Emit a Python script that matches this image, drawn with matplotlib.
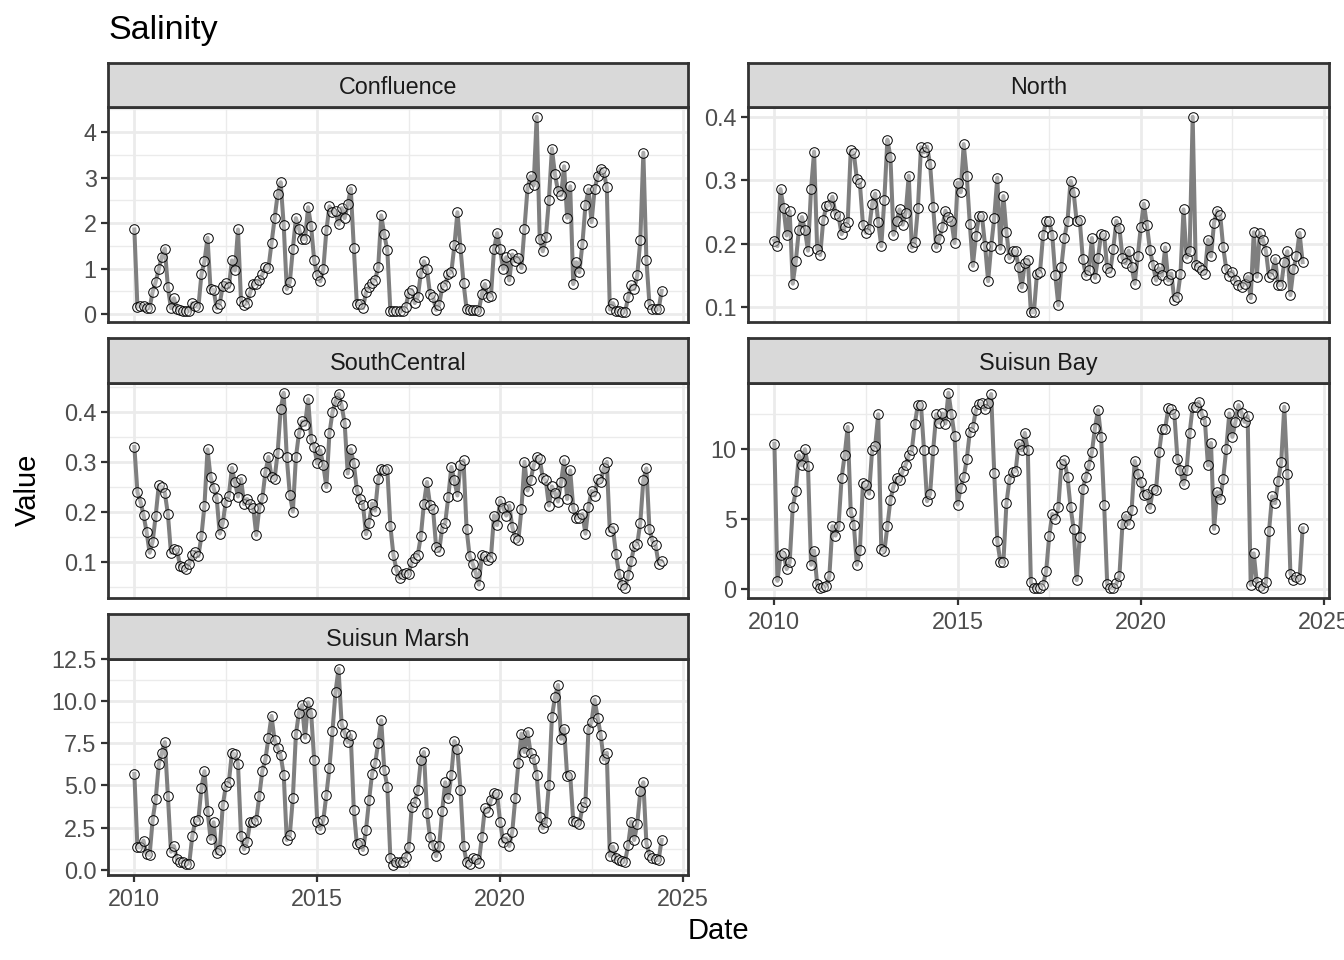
import numpy as np
import pandas as pd
import matplotlib
matplotlib.use('Agg')
from matplotlib import pyplot as plt
from matplotlib.ticker import MultipleLocator, FormatStrFormatter

plt.rcParams['font.family'] = ['Liberation Sans', 'DejaVu Sans']

# monthly values (Jan 2010 onwards)
confluence = [
    1.86, 0.16, 0.18, 0.18, 0.13, 0.13, 0.49, 0.71, 0.98, 1.26,
    1.44, 0.59, 0.13, 0.35, 0.10, 0.08, 0.06, 0.07, 0.07, 0.24,
    0.18, 0.15, 0.87, 1.16, 1.68, 0.54, 0.53, 0.13, 0.22, 0.62,
    0.68, 0.59, 1.18, 0.96, 1.86, 0.28, 0.20, 0.24, 0.48, 0.66,
    0.66, 0.74, 0.88, 1.03, 1.02, 1.56, 2.11, 2.63, 2.90, 1.95,
    0.55, 0.70, 1.43, 2.11, 1.88, 1.65, 1.65, 2.35, 1.93, 1.18,
    0.85, 0.72, 0.99, 1.84, 2.37, 2.24, 2.26, 1.97, 2.33, 2.11,
    2.41, 2.76, 1.46, 0.22, 0.22, 0.13, 0.48, 0.60, 0.68, 0.75,
    1.03, 2.17, 1.75, 1.40, 0.07, 0.07, 0.07, 0.07, 0.07, 0.15,
    0.46, 0.53, 0.24, 0.38, 0.90, 1.16, 0.99, 0.44, 0.38, 0.09,
    0.20, 0.59, 0.64, 0.88, 0.92, 1.51, 2.24, 1.46, 0.68, 0.11,
    0.09, 0.09, 0.09, 0.07, 0.44, 0.66, 0.37, 0.40, 1.42, 1.78,
    1.42, 0.99, 1.25, 0.74, 1.31, 1.16, 1.24, 1.01, 1.88, 2.77,
    3.03, 2.83, 4.34, 1.65, 1.38, 1.69, 2.50, 3.64, 3.07, 2.71,
    2.61, 3.25, 2.12, 2.81, 0.66, 1.14, 0.92, 1.54, 2.39, 2.74,
    2.02, 2.74, 3.03, 3.20, 3.13, 2.79, 0.10, 0.24, 0.07, 0.06,
    0.04, 0.04, 0.37, 0.63, 0.55, 0.85, 1.62, 3.55, 1.19, 0.22,
    0.11, 0.10, 0.10, 0.51]

north = [
    0.205, 0.196, 0.286, 0.256, 0.213, 0.251, 0.137, 0.172, 0.221, 0.242,
    0.221, 0.189, 0.286, 0.345, 0.192, 0.182, 0.237, 0.259, 0.261, 0.274,
    0.247, 0.244, 0.215, 0.226, 0.234, 0.347, 0.343, 0.302, 0.295, 0.230,
    0.217, 0.223, 0.262, 0.279, 0.234, 0.196, 0.269, 0.364, 0.337, 0.214,
    0.235, 0.254, 0.230, 0.249, 0.307, 0.194, 0.202, 0.256, 0.352, 0.344,
    0.353, 0.325, 0.258, 0.194, 0.208, 0.226, 0.252, 0.242, 0.235, 0.201,
    0.296, 0.281, 0.357, 0.307, 0.231, 0.165, 0.212, 0.243, 0.243, 0.197,
    0.141, 0.196, 0.241, 0.304, 0.192, 0.275, 0.218, 0.177, 0.188, 0.188,
    0.163, 0.131, 0.169, 0.175, 0.092, 0.092, 0.153, 0.156, 0.214, 0.235,
    0.235, 0.214, 0.150, 0.103, 0.164, 0.209, 0.236, 0.299, 0.281, 0.235,
    0.238, 0.176, 0.150, 0.158, 0.209, 0.146, 0.178, 0.215, 0.214, 0.161,
    0.156, 0.192, 0.236, 0.225, 0.178, 0.169, 0.189, 0.164, 0.137, 0.180,
    0.226, 0.263, 0.230, 0.190, 0.167, 0.142, 0.161, 0.150, 0.194, 0.142,
    0.153, 0.111, 0.116, 0.152, 0.254, 0.178, 0.188, 0.400, 0.166, 0.163,
    0.158, 0.153, 0.206, 0.180, 0.233, 0.252, 0.246, 0.194, 0.160, 0.149,
    0.156, 0.142, 0.135, 0.132, 0.137, 0.148, 0.114, 0.218, 0.148, 0.217,
    0.206, 0.188, 0.148, 0.153, 0.176, 0.135, 0.135, 0.171, 0.188, 0.119,
    0.160, 0.180, 0.217, 0.171]

south_central = [
    0.330, 0.240, 0.221, 0.194, 0.161, 0.119, 0.141, 0.193, 0.253, 0.250,
    0.238, 0.196, 0.119, 0.126, 0.124, 0.092, 0.090, 0.087, 0.097, 0.114,
    0.121, 0.112, 0.152, 0.213, 0.325, 0.270, 0.248, 0.228, 0.157, 0.178,
    0.221, 0.233, 0.288, 0.260, 0.231, 0.266, 0.216, 0.226, 0.216, 0.209,
    0.154, 0.209, 0.228, 0.280, 0.310, 0.270, 0.266, 0.318, 0.405, 0.438,
    0.309, 0.235, 0.201, 0.309, 0.357, 0.381, 0.374, 0.425, 0.345, 0.330,
    0.297, 0.323, 0.293, 0.250, 0.357, 0.399, 0.421, 0.436, 0.413, 0.377,
    0.277, 0.325, 0.297, 0.244, 0.226, 0.215, 0.156, 0.179, 0.217, 0.203,
    0.266, 0.285, 0.283, 0.285, 0.172, 0.114, 0.085, 0.068, 0.076, 0.079,
    0.077, 0.101, 0.109, 0.115, 0.152, 0.217, 0.260, 0.215, 0.206, 0.131,
    0.122, 0.169, 0.179, 0.230, 0.290, 0.263, 0.233, 0.293, 0.303, 0.166,
    0.112, 0.097, 0.079, 0.055, 0.114, 0.112, 0.105, 0.110, 0.193, 0.174,
    0.223, 0.209, 0.193, 0.213, 0.170, 0.149, 0.144, 0.206, 0.300, 0.243,
    0.263, 0.293, 0.310, 0.306, 0.268, 0.263, 0.213, 0.251, 0.238, 0.221,
    0.260, 0.303, 0.226, 0.283, 0.208, 0.188, 0.188, 0.196, 0.157, 0.211,
    0.242, 0.233, 0.265, 0.260, 0.287, 0.300, 0.162, 0.169, 0.117, 0.077,
    0.054, 0.048, 0.074, 0.102, 0.132, 0.136, 0.179, 0.264, 0.287, 0.166,
    0.142, 0.134, 0.097, 0.102]

suisun_bay = [
    10.4, 0.6, 2.46, 2.56, 1.44, 1.91, 5.86, 7.0, 9.57, 8.85,
    10.0, 8.78, 1.75, 2.75, 0.36, 0.07, 0.17, 0.24, 0.96, 4.5,
    3.83, 4.5, 7.94, 9.57, 11.6, 5.55, 4.62, 1.75, 2.8, 7.58,
    7.42, 6.82, 9.93, 10.24, 12.5, 2.87, 2.7, 4.5, 6.39, 7.34,
    7.94, 7.78, 8.44, 8.9, 9.57, 9.93, 11.84, 13.2, 13.2, 9.93,
    6.29, 6.82, 9.93, 12.5, 11.9, 12.56, 11.84, 14.04, 12.5, 10.96,
    6.05, 7.25, 8.01, 9.28, 11.24, 11.56, 12.8, 13.23, 13.28, 12.85,
    13.28, 13.95, 8.3, 3.47, 1.96, 1.91, 6.15, 7.85, 8.37, 8.44,
    10.4, 9.93, 11.17, 9.93, 0.48, 0.07, 0.07, 0.12, 0.31, 1.27,
    3.78, 5.38, 5.02, 5.86, 8.97, 9.21, 8.01, 5.86, 4.31, 0.65,
    3.71, 7.18, 8.01, 8.85, 9.81, 11.53, 12.8, 10.89, 6.05, 0.36,
    0.07, 0.07, 0.41, 0.96, 4.67, 5.26, 4.67, 5.67, 9.16, 8.25,
    7.66, 6.7, 6.82, 5.81, 7.18, 7.1, 9.81, 11.48, 11.48, 12.92,
    12.85, 12.5, 9.33, 8.49, 7.49, 8.54, 11.17, 13.04, 13.04, 13.4,
    12.5, 12.03, 8.85, 10.45, 4.31, 6.94, 6.46, 7.89, 10.05, 12.56,
    10.89, 11.96, 13.16, 12.6, 11.96, 12.37, 0.31, 2.56, 0.48, 0.24,
    0.07, 0.48, 4.14, 6.63, 6.15, 7.73, 9.09, 13.04, 8.25, 1.12,
    0.65, 0.84, 0.72, 4.35]

suisun_marsh = [
    5.69, 1.32, 1.32, 1.72, 0.92, 0.86, 2.95, 4.19, 6.25, 6.95,
    7.58, 4.39, 1.06, 1.40, 0.60, 0.46, 0.46, 0.36, 0.36, 2.00,
    2.89, 2.95, 4.85, 5.85, 3.51, 1.82, 2.81, 0.96, 1.16, 3.81,
    4.95, 5.19, 6.95, 6.85, 6.29, 2.00, 1.20, 1.66, 2.85, 2.85,
    2.95, 4.39, 5.89, 6.55, 7.84, 9.14, 7.70, 7.25, 6.79, 5.65,
    1.76, 2.06, 4.25, 8.04, 9.34, 9.78, 7.84, 9.94, 9.30, 6.51,
    2.85, 2.40, 2.95, 4.45, 6.05, 8.24, 10.58, 11.94, 8.64, 8.14,
    7.58, 7.98, 3.55, 1.52, 1.56, 1.16, 2.36, 4.11, 5.71, 6.31,
    7.54, 8.88, 5.91, 4.91, 0.66, 0.26, 0.46, 0.46, 0.46, 0.76,
    1.32, 3.75, 4.01, 4.71, 6.51, 6.99, 3.39, 1.92, 1.46, 0.80,
    1.40, 3.51, 5.19, 4.25, 5.65, 7.64, 7.15, 4.75, 1.40, 0.46,
    0.32, 0.66, 0.60, 0.40, 1.92, 3.65, 3.45, 4.15, 4.55, 4.51,
    2.85, 1.66, 1.86, 1.40, 2.26, 4.25, 6.31, 8.08, 6.99, 8.18,
    6.95, 6.59, 5.65, 3.15, 2.46, 2.81, 5.05, 9.10, 10.24, 10.98,
    7.78, 8.38, 5.55, 5.65, 2.89, 2.81, 2.71, 3.71, 3.99, 8.38,
    8.78, 10.10, 9.04, 8.00, 6.55, 6.95, 0.82, 1.36, 0.66, 0.56,
    0.52, 0.46, 1.46, 2.85, 1.76, 2.71, 4.65, 5.19, 1.56, 0.86,
    0.66, 0.60, 0.56, 1.76]

year_ticks = [2010, 2015, 2020, 2025]

W, H = 1344, 960
fig = plt.figure(figsize=(W / 100, H / 100), dpi=100)


def box(x0, y0, x1, y1):
    # pixel box (top-left origin) -> figure fraction
    return [x0 / W, 1 - y1 / H, (x1 - x0) / W, (y1 - y0) / H]


# name, data, left, right, strip top, panel top, panel bottom, x labels, major, minor, fmt
panels = [
    ('Confluence', confluence, 108, 688, 63, 107, 322, False, 1, 0.5, '%d'),
    ('North', north, 748, 1329, 63, 107, 322, False, 0.1, 0.05, '%.1f'),
    ('SouthCentral', south_central, 108, 688, 338, 383, 598, False, 0.1, 0.05, '%.1f'),
    ('Suisun Bay', suisun_bay, 748, 1329, 338, 383, 598, True, 5, 2.5, '%d'),
    ('Suisun Marsh', suisun_marsh, 108, 688, 614, 659, 875, True, 2.5, 1.25, '%.1f'),
]

edge = '#333333'
for name, vals, x0, x1, s0, p0, p1, show_x, major, minor, fmt in panels:
    dates = pd.date_range('2010-01-01', periods=len(vals), freq='MS')
    t = dates.year + (dates.month - 1) / 12.0
    v = np.array(vals)

    ax = fig.add_axes(box(x0, p0, x1, p1))
    ax.plot(t, v, color='#7F7F7F', lw=2.9, zorder=2, solid_joinstyle='round')
    ax.plot(t, v, 'o', ms=6.9, mfc=(1, 1, 1, 0.35), mec='black', mew=0.7, zorder=3)

    tr = t.max() - t.min()
    ax.set_xlim(t.min() - 0.05 * tr, t.max() + 0.05 * tr)
    vr = v.max() - v.min()
    ax.set_ylim(v.min() - 0.05 * vr, v.max() + 0.05 * vr)

    ax.set_xticks(year_ticks)
    ax.xaxis.set_minor_locator(MultipleLocator(2.5))
    ax.yaxis.set_major_locator(MultipleLocator(major))
    ax.yaxis.set_minor_locator(MultipleLocator(minor))
    ax.yaxis.set_major_formatter(FormatStrFormatter(fmt))

    ax.set_axisbelow(True)
    ax.grid(which='major', color='#EBEBEB', lw=2.0)
    ax.grid(which='minor', color='#EBEBEB', lw=1.0)
    for sp in ax.spines.values():
        sp.set_color(edge)
        sp.set_linewidth(2.0)

    ax.tick_params(which='minor', length=0)
    ax.tick_params(axis='y', which='major', length=5.2, width=1.6, color=edge,
                   labelsize=16.8, labelcolor='#4D4D4D', pad=3)
    if show_x:
        ax.tick_params(axis='x', which='major', length=5.2, width=1.6, color=edge,
                       labelsize=16.8, labelcolor='#4D4D4D', pad=4)
    else:
        ax.tick_params(axis='x', which='major', length=0, labelbottom=False)

    # facet strip
    sax = fig.add_axes(box(x0, s0, x1, p0))
    sax.set_facecolor('#D9D9D9')
    sax.set_xticks([])
    sax.set_yticks([])
    for sp in sax.spines.values():
        sp.set_color(edge)
        sp.set_linewidth(2.0)
    sax.text(0.5, 0.44, name, ha='center', va='center', fontsize=16.8,
             color='#1A1A1A', transform=sax.transAxes)

fig.text(108 / W, 1 - 31 / H, 'Salinity', ha='left', va='center', fontsize=24.5, color='black')
fig.text(718 / W, 1 - 931 / H, 'Date', ha='center', va='center', fontsize=21, color='black')
fig.text(28 / W, 1 - 490 / H, 'Value', ha='center', va='center', rotation=90, fontsize=21,
         color='black')

fig.savefig('out.png', dpi=100)
